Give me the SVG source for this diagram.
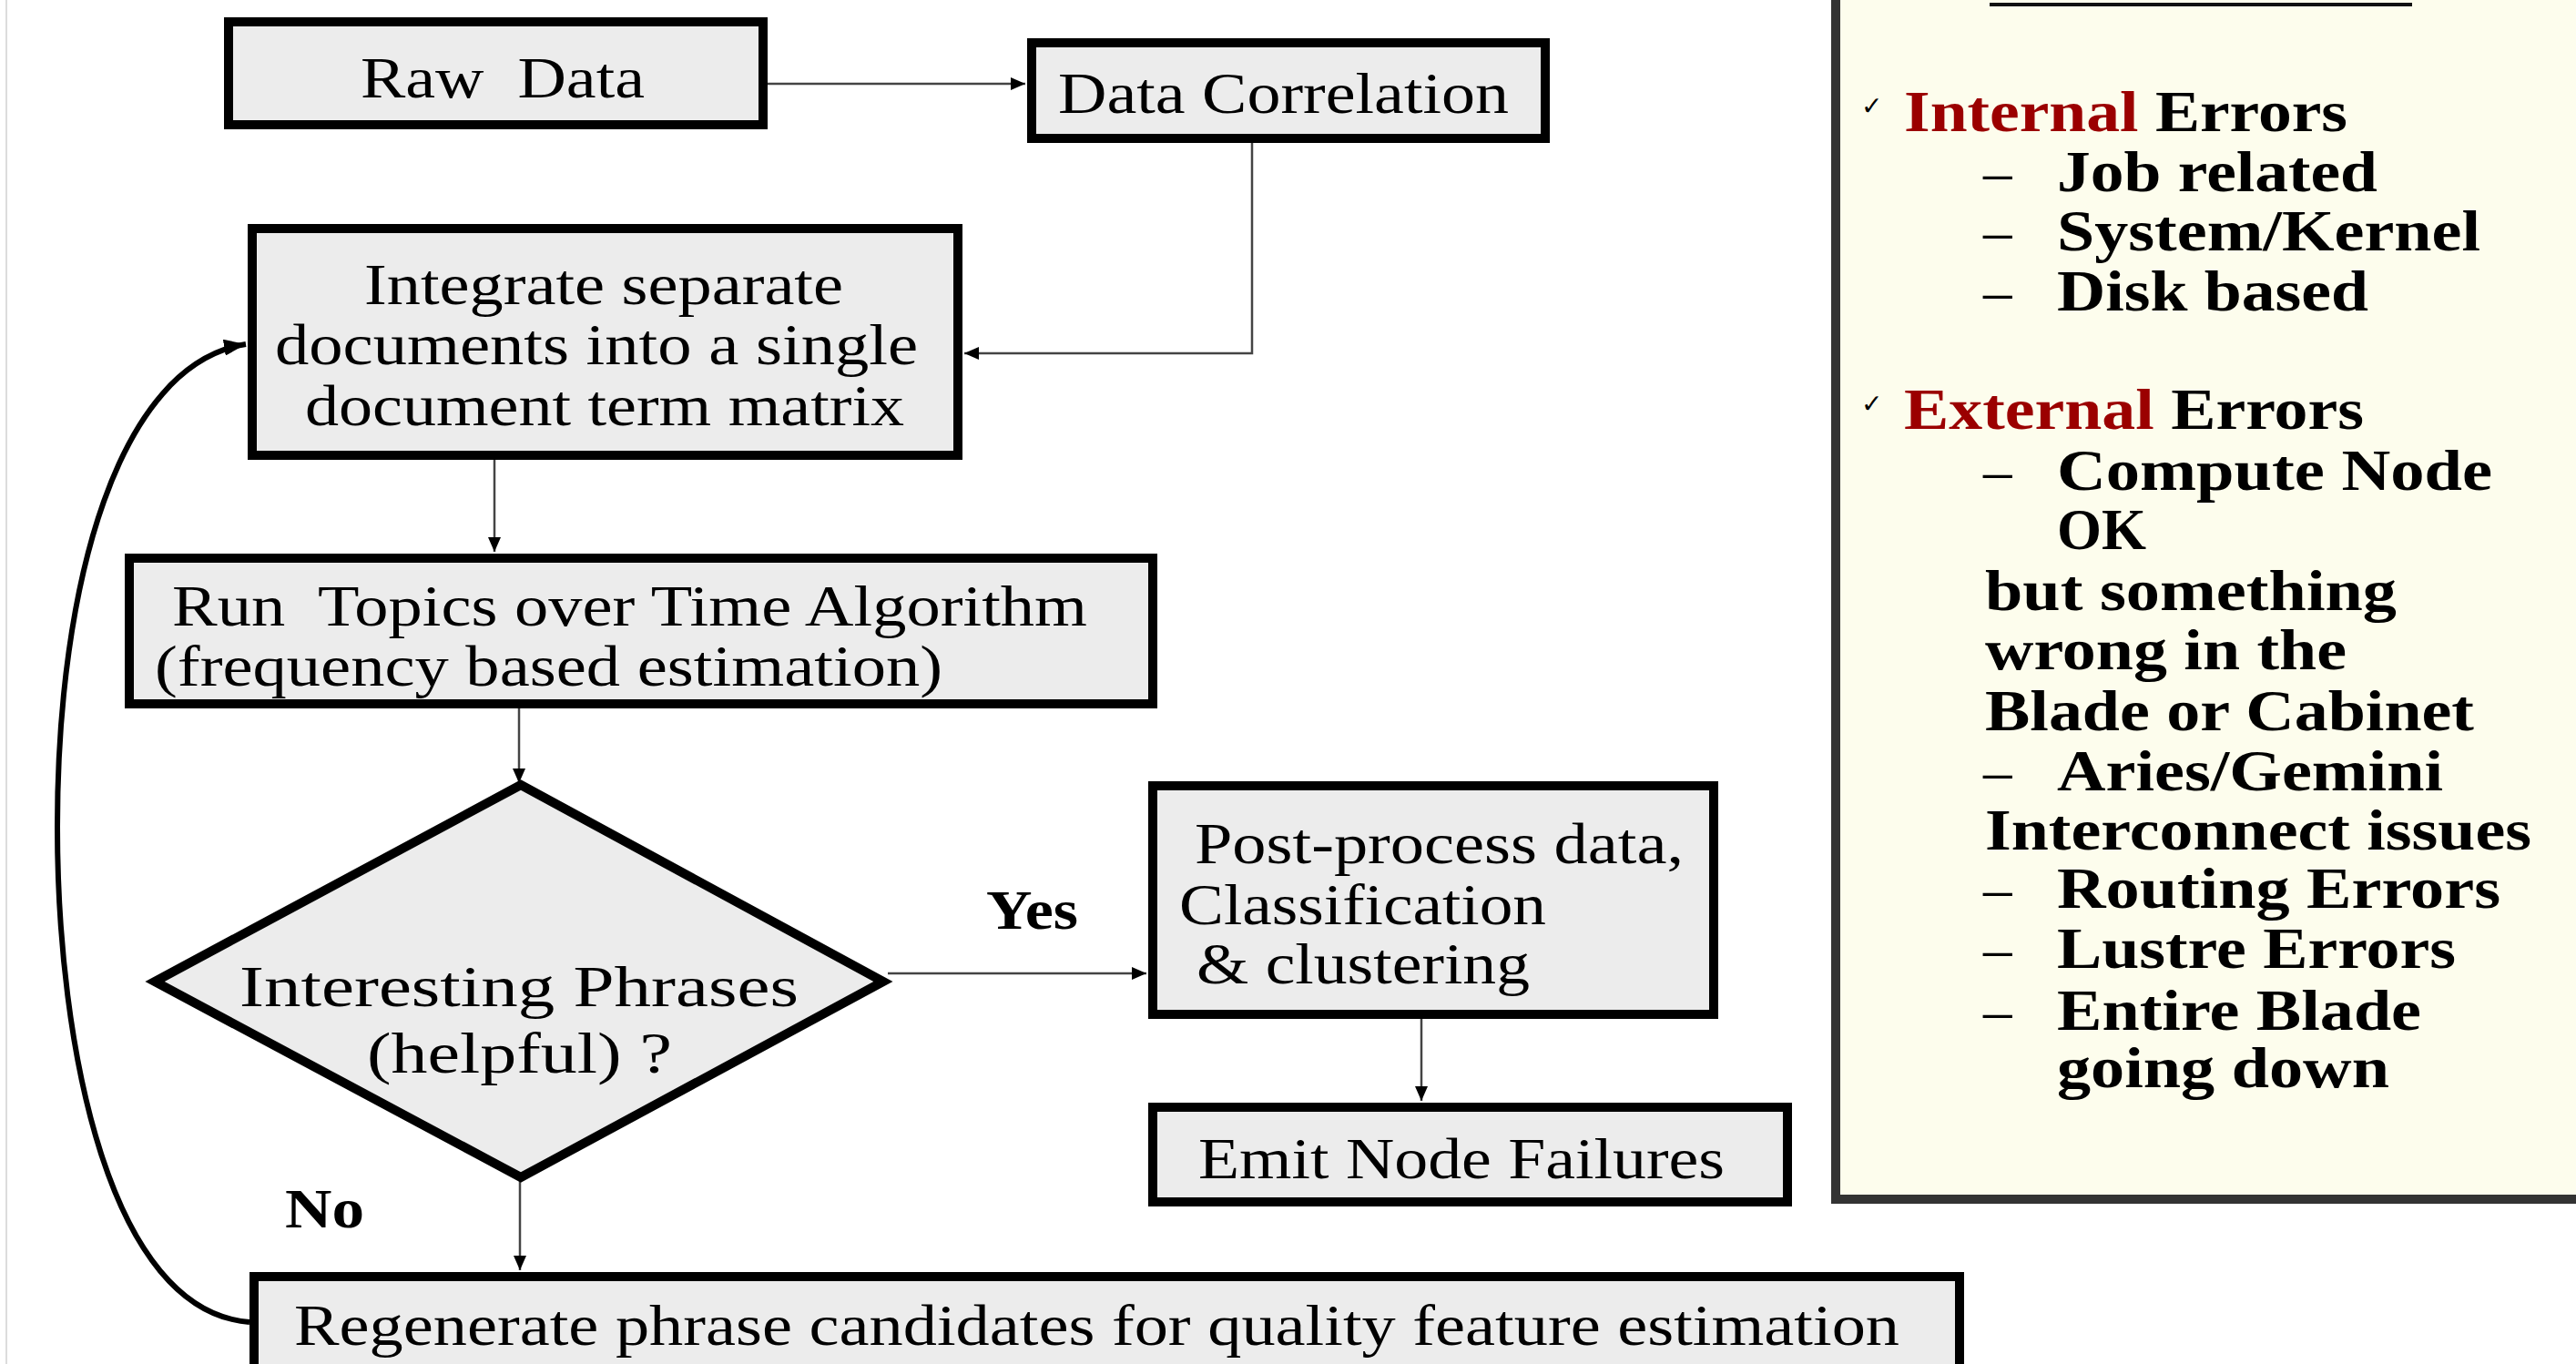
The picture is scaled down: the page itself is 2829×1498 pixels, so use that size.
<svg xmlns="http://www.w3.org/2000/svg" width="2829" height="1498" viewBox="0 0 2829 1498">
<style>
.box{fill:#ececec;stroke:#000;stroke-width:10}
.t{font-family:"Liberation Serif","Times New Roman",serif;fill:#000}
.r{font-size:63px}
.b{font-size:62px;font-weight:bold}
.p{font-family:"Liberation Serif","Times New Roman",serif;font-size:63px;font-weight:bold;fill:#000}
.d{font-family:"Liberation Serif","Times New Roman",serif;font-size:63px;fill:#000}
.red{fill:#9b0000}
.ck{font-family:"DejaVu Sans",sans-serif;font-size:28px;fill:#000}
.c{fill:none;stroke:#444;stroke-width:2.5}
</style>
<defs>
<marker id="ah" markerUnits="userSpaceOnUse" markerWidth="18" markerHeight="14" refX="16" refY="7" orient="auto">
<path d="M0,0 L16,7 L0,14 z" fill="#000"/>
</marker>
<marker id="ahb" markerUnits="userSpaceOnUse" markerWidth="26" markerHeight="18" refX="24" refY="9" orient="auto">
<path d="M0,0 L24,9 L0,18 z" fill="#000"/>
</marker>
</defs>
<rect x="0" y="0" width="2829" height="1498" fill="#fff"/>
<line x1="7" y1="0" x2="7" y2="1498" stroke="#dcdcdc" stroke-width="2"/>

<g id="panel">
<rect x="2016" y="-20" width="900" height="1337" fill="#fdfded" stroke="#333" stroke-width="10"/>
<line x1="2185" y1="5" x2="2649" y2="5" stroke="#111" stroke-width="4"/>
<text class="ck" x="2044" y="126">✓</text>
<text class="p" x="2091" y="144" textLength="487" lengthAdjust="spacingAndGlyphs"><tspan class="red">Internal</tspan> Errors</text>
<text class="d" x="2178" y="210">–</text>
<text class="p" x="2259" y="210" textLength="352" lengthAdjust="spacingAndGlyphs">Job related</text>
<text class="d" x="2178" y="275">–</text>
<text class="p" x="2259" y="275" textLength="465" lengthAdjust="spacingAndGlyphs">System/Kernel</text>
<text class="d" x="2178" y="341">–</text>
<text class="p" x="2259" y="341" textLength="342" lengthAdjust="spacingAndGlyphs">Disk based</text>
<text class="ck" x="2044" y="453">✓</text>
<text class="p" x="2091" y="471" textLength="505" lengthAdjust="spacingAndGlyphs"><tspan class="red">External</tspan> Errors</text>
<text class="d" x="2178" y="538">–</text>
<text class="p" x="2259" y="538" textLength="478" lengthAdjust="spacingAndGlyphs">Compute Node</text>
<text class="p" x="2259" y="603">OK</text>
<text class="p" x="2180" y="670" textLength="452" lengthAdjust="spacingAndGlyphs">but something</text>
<text class="p" x="2180" y="735" textLength="397" lengthAdjust="spacingAndGlyphs">wrong in the</text>
<text class="p" x="2180" y="802" textLength="537" lengthAdjust="spacingAndGlyphs">Blade or Cabinet</text>
<text class="d" x="2178" y="868">–</text>
<text class="p" x="2259" y="868" textLength="424" lengthAdjust="spacingAndGlyphs">Aries/Gemini</text>
<text class="p" x="2180" y="933" textLength="600" lengthAdjust="spacingAndGlyphs">Interconnect issues</text>
<text class="d" x="2178" y="997">–</text>
<text class="p" x="2259" y="997" textLength="487" lengthAdjust="spacingAndGlyphs">Routing Errors</text>
<text class="d" x="2178" y="1063">–</text>
<text class="p" x="2259" y="1063" textLength="438" lengthAdjust="spacingAndGlyphs">Lustre Errors</text>
<text class="d" x="2178" y="1131">–</text>
<text class="p" x="2259" y="1131" textLength="400" lengthAdjust="spacingAndGlyphs">Entire Blade</text>
<text class="p" x="2259" y="1194" textLength="365" lengthAdjust="spacingAndGlyphs">going down</text>
</g>

<g id="connectors">
<path class="c" d="M843,92 L1126,92" marker-end="url(#ah)"/>
<path class="c" d="M1375,157 L1375,388 L1059,388" marker-end="url(#ah)"/>
<path class="c" d="M543,505 L543,606" marker-end="url(#ah)"/>
<path class="c" d="M570,757 L570,860" marker-end="url(#ah)"/>
<path class="c" d="M975,1069 L1259,1069" marker-end="url(#ah)"/>
<path class="c" d="M1561,1119 L1561,1209" marker-end="url(#ah)"/>
<path class="c" d="M571,1293 L571,1395" marker-end="url(#ah)"/>
<path d="M274,1452 C120,1440 63,1150 63,908 C63,640 130,400 270,378" fill="none" stroke="#000" stroke-width="6" marker-end="url(#ahb)"/>
<text class="t b" x="1083" y="1020" textLength="101" lengthAdjust="spacingAndGlyphs">Yes</text>
<text class="t b" x="313" y="1348" textLength="87" lengthAdjust="spacingAndGlyphs">No</text>
</g>

<g id="raw">
<rect class="box" x="251" y="24" width="587" height="113"/>
<text class="t r" x="396" y="107" textLength="312" lengthAdjust="spacingAndGlyphs" xml:space="preserve">Raw  Data</text>
</g>
<g id="corr">
<rect class="box" x="1133" y="47" width="564" height="105"/>
<text class="t r" x="1162" y="124" textLength="495" lengthAdjust="spacingAndGlyphs">Data Correlation</text>
</g>
<g id="integrate">
<rect class="box" x="277" y="251" width="775" height="249"/>
<text class="t r" x="400" y="334" textLength="526" lengthAdjust="spacingAndGlyphs">Integrate separate</text>
<text class="t r" x="302" y="400" textLength="706" lengthAdjust="spacingAndGlyphs">documents into a single</text>
<text class="t r" x="335" y="467" textLength="658" lengthAdjust="spacingAndGlyphs">document term matrix</text>
</g>
<g id="run">
<rect class="box" x="142" y="613" width="1124" height="160"/>
<text class="t r" x="189" y="687" textLength="1005" lengthAdjust="spacingAndGlyphs" xml:space="preserve">Run  Topics over Time Algorithm</text>
<text class="t r" x="170" y="753" textLength="865" lengthAdjust="spacingAndGlyphs">(frequency based estimation)</text>
</g>
<g id="decision">
<polygon points="572,862 970,1078 572,1293 170,1078" fill="#ececec" stroke="#000" stroke-width="10"/>
<text class="t r" x="263" y="1105" font-size="66" textLength="614" lengthAdjust="spacingAndGlyphs">Interesting Phrases</text>
<text class="t r" x="403" y="1178" font-size="66" textLength="335" lengthAdjust="spacingAndGlyphs">(helpful) ?</text>
</g>
<g id="post">
<rect class="box" x="1266" y="863" width="616" height="251"/>
<text class="t r" x="1312" y="948" textLength="537" lengthAdjust="spacingAndGlyphs">Post-process data,</text>
<text class="t r" x="1295" y="1015" textLength="403" lengthAdjust="spacingAndGlyphs">Classification</text>
<text class="t r" x="1314" y="1080" textLength="366" lengthAdjust="spacingAndGlyphs">&amp; clustering</text>
</g>
<g id="emit">
<rect class="box" x="1266" y="1216" width="697" height="104"/>
<text class="t r" x="1316" y="1294" textLength="578" lengthAdjust="spacingAndGlyphs">Emit Node Failures</text>
</g>
<g id="regen">
<rect class="box" x="279" y="1402" width="1873" height="200"/>
<text class="t r" x="323" y="1477" textLength="1763" lengthAdjust="spacingAndGlyphs">Regenerate phrase candidates for quality feature estimation</text>
</g>
</svg>
